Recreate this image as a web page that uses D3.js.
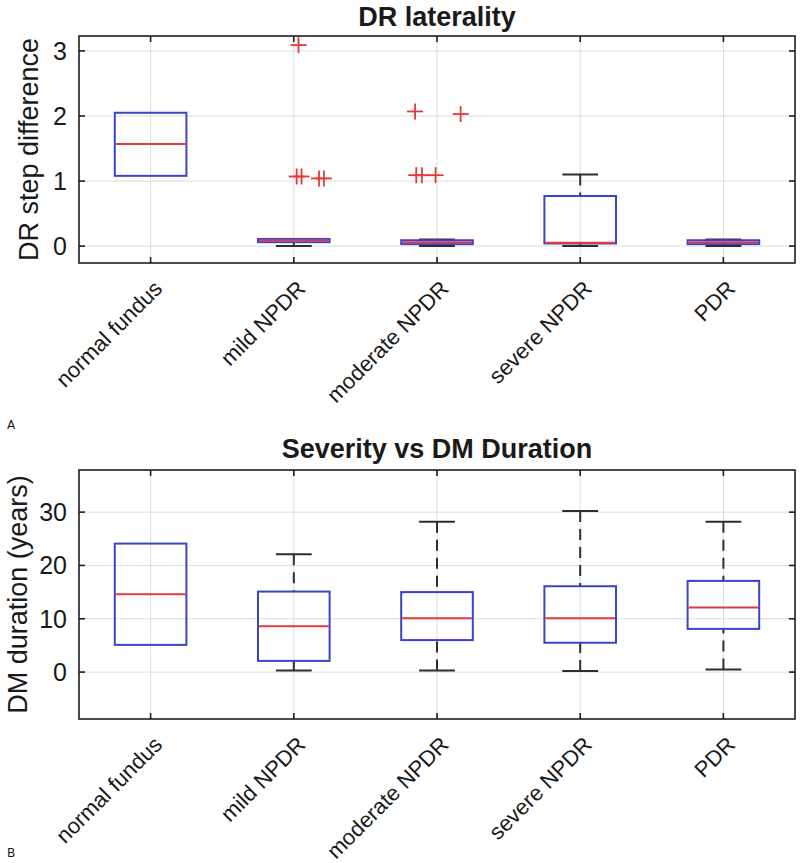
<!DOCTYPE html>
<html>
<head>
<meta charset="utf-8">
<script src="https://cdn.jsdelivr.net/npm/d3@7"></script>
<style>
  html, body { margin: 0; padding: 0; background: #fff; }
  svg { display: block; }
  text { font-family: "Liberation Sans", Arial, Helvetica, sans-serif; fill: #1a1a1a; }
</style>
</head>
<body>
<svg id="chart" width="800" height="863"></svg>
<script>
// ---------- data ----------
const categories = ["normal fundus", "mild NPDR", "moderate NPDR", "severe NPDR", "PDR"];

// Panel A: DR laterality (DR step difference)
const drQ1           = [1.08, 0.06, 0.03, 0.04, 0.03];
const drMedian       = [1.57, 0.09, 0.06, 0.05, 0.06];
const drQ3           = [2.05, 0.11, 0.09, 0.77, 0.09];
const drWhiskerLow   = [1.08, 0.00, 0.00, 0.00, 0.00];
const drWhiskerHigh  = [2.05, 0.11, 0.10, 1.10, 0.10];
const drOutlierGroup  = [1, 1, 1, 1, 1, 2, 2, 2, 2, 2];
const drOutlierJitter = [0.033, 0.02, 0.054, 0.176, 0.21, -0.153, 0.165, -0.145, -0.105, -0.01];
const drOutlierValue  = [3.09, 1.07, 1.07, 1.04, 1.04, 2.07, 2.03, 1.09, 1.09, 1.09];
const drTicks  = [0, 1, 2, 3];
const drDomain = [-0.26, 3.23];

// Panel B: Severity vs DM Duration (years)
const dmQ1          = [5.1, 2.1, 6.0, 5.5, 8.1];
const dmMedian      = [14.6, 8.6, 10.1, 10.1, 12.1];
const dmQ3          = [24.1, 15.1, 15.0, 16.1, 17.1];
const dmWhiskerLow  = [5.1, 0.3, 0.3, 0.2, 0.5];
const dmWhiskerHigh = [24.1, 22.1, 28.2, 30.2, 28.2];
const dmTicks  = [0, 10, 20, 30];
const dmDomain = [-8.8, 37.9];

// ---------- drawing ----------
const svg = d3.select("#chart");
svg.append("rect").attr("width", 800).attr("height", 863).attr("fill", "#fff");

const BLUE = "#3b44c8", RED = "#e23a3a", DARK = "#2e2e2e", GRID = "#dcdcdc";

function drawPanel(p) {
  const x = d3.scaleLinear().domain([0.5, categories.length + 0.5]).range([p.left, p.right]);
  const y = d3.scaleLinear().domain(p.domain).range([p.bottom, p.top]);
  const g = svg.append("g");
  const idx = d3.range(categories.length);

  // grid
  g.selectAll(".gx").data(idx).join("line")
    .attr("x1", i => x(i + 1)).attr("x2", i => x(i + 1))
    .attr("y1", p.top).attr("y2", p.bottom)
    .attr("stroke", GRID).attr("stroke-width", 1);
  g.selectAll(".gy").data(p.ticks).join("line")
    .attr("x1", p.left).attr("x2", p.right)
    .attr("y1", d => y(d)).attr("y2", d => y(d))
    .attr("stroke", GRID).attr("stroke-width", 1);

  // whiskers (dashed)
  const wh = [];
  idx.forEach(i => {
    if (p.wHigh[i] > p.q3[i]) wh.push({i, from: p.wHigh[i], to: p.q3[i]});
    if (p.wLow[i] < p.q1[i]) wh.push({i, from: p.wLow[i], to: p.q1[i]});
  });
  g.selectAll(".wh").data(wh).join("line")
    .attr("x1", d => x(d.i + 1)).attr("x2", d => x(d.i + 1))
    .attr("y1", d => y(d.from)).attr("y2", d => y(d.to))
    .attr("stroke", DARK).attr("stroke-width", 2)
    .attr("stroke-dasharray", "11,7");
  // caps
  const capHalf = 0.125;
  g.selectAll(".cap").data(wh).join("line")
    .attr("x1", d => x(d.i + 1 - capHalf)).attr("x2", d => x(d.i + 1 + capHalf))
    .attr("y1", d => y(d.from)).attr("y2", d => y(d.from))
    .attr("stroke", DARK).attr("stroke-width", 2);

  // boxes
  const boxHalf = 0.25;
  g.selectAll(".box").data(idx).join("rect")
    .attr("x", i => x(i + 1 - boxHalf))
    .attr("width", i => x(i + 1 + boxHalf) - x(i + 1 - boxHalf))
    .attr("y", i => y(p.q3[i]))
    .attr("height", i => Math.max(0, y(p.q1[i]) - y(p.q3[i])))
    .attr("fill", "none").attr("stroke", BLUE).attr("stroke-width", 2);
  // medians
  g.selectAll(".med").data(idx).join("line")
    .attr("x1", i => x(i + 1 - boxHalf) + 1).attr("x2", i => x(i + 1 + boxHalf) - 1)
    .attr("y1", i => y(p.med[i])).attr("y2", i => y(p.med[i]))
    .attr("stroke", RED).attr("stroke-width", 2);

  // outliers
  if (p.outGroup) {
    const outs = p.outGroup.map((gi, k) => ({gi, j: p.outJitter[k], v: p.outValue[k]}));
    const s = 8;
    const og = g.selectAll(".out").data(outs).join("g")
      .attr("transform", d => `translate(${x(d.gi + 1 + d.j)},${y(d.v)})`);
    og.append("line").attr("x1", -s).attr("x2", s).attr("y1", 0).attr("y2", 0)
      .attr("stroke", RED).attr("stroke-width", 1.8);
    og.append("line").attr("x1", 0).attr("x2", 0).attr("y1", -s).attr("y2", s)
      .attr("stroke", RED).attr("stroke-width", 1.8);
  }

  // frame
  g.append("rect").attr("x", p.left).attr("y", p.top)
    .attr("width", p.right - p.left).attr("height", p.bottom - p.top)
    .attr("fill", "none").attr("stroke", "#1e1e1e").attr("stroke-width", 1.6);

  // inward ticks
  const tl = 6;
  g.selectAll(".txb").data(idx).join("line")
    .attr("x1", i => x(i + 1)).attr("x2", i => x(i + 1))
    .attr("y1", p.bottom).attr("y2", p.bottom - tl)
    .attr("stroke", "#1e1e1e").attr("stroke-width", 1.6);
  g.selectAll(".txt").data(idx).join("line")
    .attr("x1", i => x(i + 1)).attr("x2", i => x(i + 1))
    .attr("y1", p.top).attr("y2", p.top + tl)
    .attr("stroke", "#1e1e1e").attr("stroke-width", 1.6);
  g.selectAll(".tyl").data(p.ticks).join("line")
    .attr("x1", p.left).attr("x2", p.left + tl)
    .attr("y1", d => y(d)).attr("y2", d => y(d))
    .attr("stroke", "#1e1e1e").attr("stroke-width", 1.6);
  g.selectAll(".tyr").data(p.ticks).join("line")
    .attr("x1", p.right).attr("x2", p.right - tl)
    .attr("y1", d => y(d)).attr("y2", d => y(d))
    .attr("stroke", "#1e1e1e").attr("stroke-width", 1.6);

  // y tick labels
  g.selectAll(".ylab").data(p.ticks).join("text")
    .attr("x", p.left - 12).attr("y", d => y(d))
    .attr("dy", "0.36em")
    .attr("text-anchor", "end")
    .style("font-size", "25px")
    .text(d => d);

  // x tick labels (rotated 45°)
  g.selectAll(".xlab").data(idx).join("text")
    .attr("transform", i => `translate(${x(i + 1) + 13},${p.bottom + 27}) rotate(-45)`)
    .attr("text-anchor", "end")
    .style("font-size", "22px")
    .text(i => categories[i]);

  // title
  g.append("text")
    .attr("x", (p.left + p.right) / 2).attr("y", p.titleY)
    .attr("text-anchor", "middle")
    .style("font-size", "27px").style("font-weight", "bold")
    .text(p.title);

  // y axis label
  g.append("text")
    .attr("transform", `translate(${p.ylabelX},${(p.top + p.bottom) / 2}) rotate(-90)`)
    .attr("text-anchor", "middle")
    .style("font-size", "27px")
    .text(p.ylabel);

  // panel letter
  g.append("text")
    .attr("x", 7).attr("y", p.letterY)
    .style("font-size", "12px").style("font-family", "'DejaVu Sans', sans-serif")
    .text(p.letter);
}

drawPanel({
  left: 79, right: 795, top: 36, bottom: 263,
  domain: drDomain, ticks: drTicks,
  q1: drQ1, med: drMedian, q3: drQ3, wLow: drWhiskerLow, wHigh: drWhiskerHigh,
  outGroup: drOutlierGroup, outJitter: drOutlierJitter, outValue: drOutlierValue,
  title: "DR laterality", titleY: 26,
  ylabel: "DR step difference", ylabelX: 38,
  letter: "A", letterY: 429
});

drawPanel({
  left: 79, right: 795, top: 470, bottom: 719,
  domain: dmDomain, ticks: dmTicks,
  q1: dmQ1, med: dmMedian, q3: dmQ3, wLow: dmWhiskerLow, wHigh: dmWhiskerHigh,
  title: "Severity vs DM Duration", titleY: 458,
  ylabel: "DM duration (years)", ylabelX: 27,
  letter: "B", letterY: 857
});
</script>
</body>
</html>
